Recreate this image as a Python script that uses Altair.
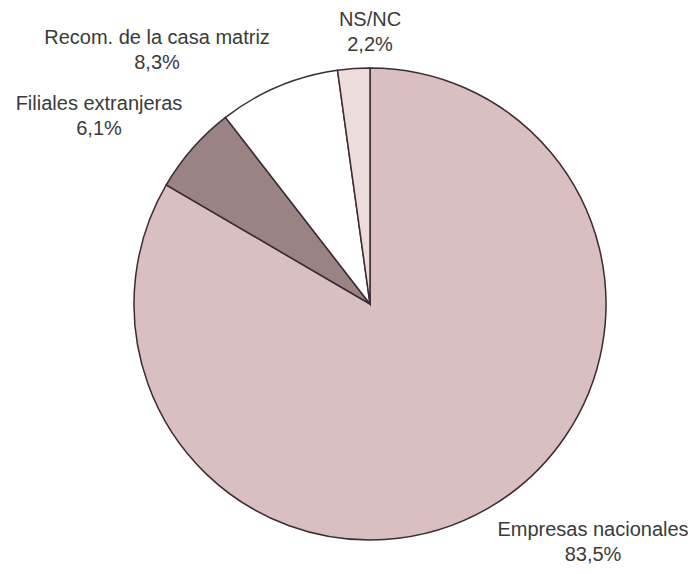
import altair as alt
import pandas as pd

categories = ["Empresas nacionales", "Filiales extranjeras", "Recom. de la casa matriz", "NS/NC"]
values = [83.5, 6.1, 8.3, 2.2]
labels = ["83,5%", "6,1%", "8,3%", "2,2%"]
colors = ["#d9bfbf", "#9c8383", "#ffffff", "#ecdcda"]

df = pd.DataFrame({"cat": categories, "val": values, "ord": list(range(len(categories)))})

cx, cy, r = 362, 296, 236

pie = alt.Chart(df).mark_arc(stroke="#3b2b33", strokeWidth=1.5, outerRadius=r).encode(
    theta=alt.Theta("val:Q", stack=True),
    order=alt.Order("ord:Q", sort="ascending"),
    color=alt.Color("cat:N", scale=alt.Scale(domain=categories, range=colors), legend=None),
    x=alt.value(cx), y=alt.value(cy),
)

label_pos = {
    "Empresas nacionales": (585, 522),
    "Filiales extranjeras": (91, 96),
    "Recom. de la casa matriz": (149, 30),
    "NS/NC": (362, 12),
}

layers = [pie]
for c, lab in zip(categories, labels):
    x, y = label_pos[c]
    t = pd.DataFrame({"t": [c, lab], "line": [0, 1]})
    for line in (0, 1):
        layers.append(
            alt.Chart(t).mark_text(font="Liberation Sans", fontSize=20, color="#3a3a3a",
                                   align="center", baseline="middle").encode(
                text="t:N",
                x=alt.value(x),
                y=alt.value(y + 25 * line),
            ).transform_filter(f"datum.line == {line}")
        )

chart = alt.layer(*layers).properties(
    width=680, height=558,
    autosize=alt.AutoSizeParams(type="none"),
    padding=0,
    background="#ffffff",
).configure_view(stroke=None)

chart.save("out.html", embed_options={"renderer": "svg", "actions": False})
